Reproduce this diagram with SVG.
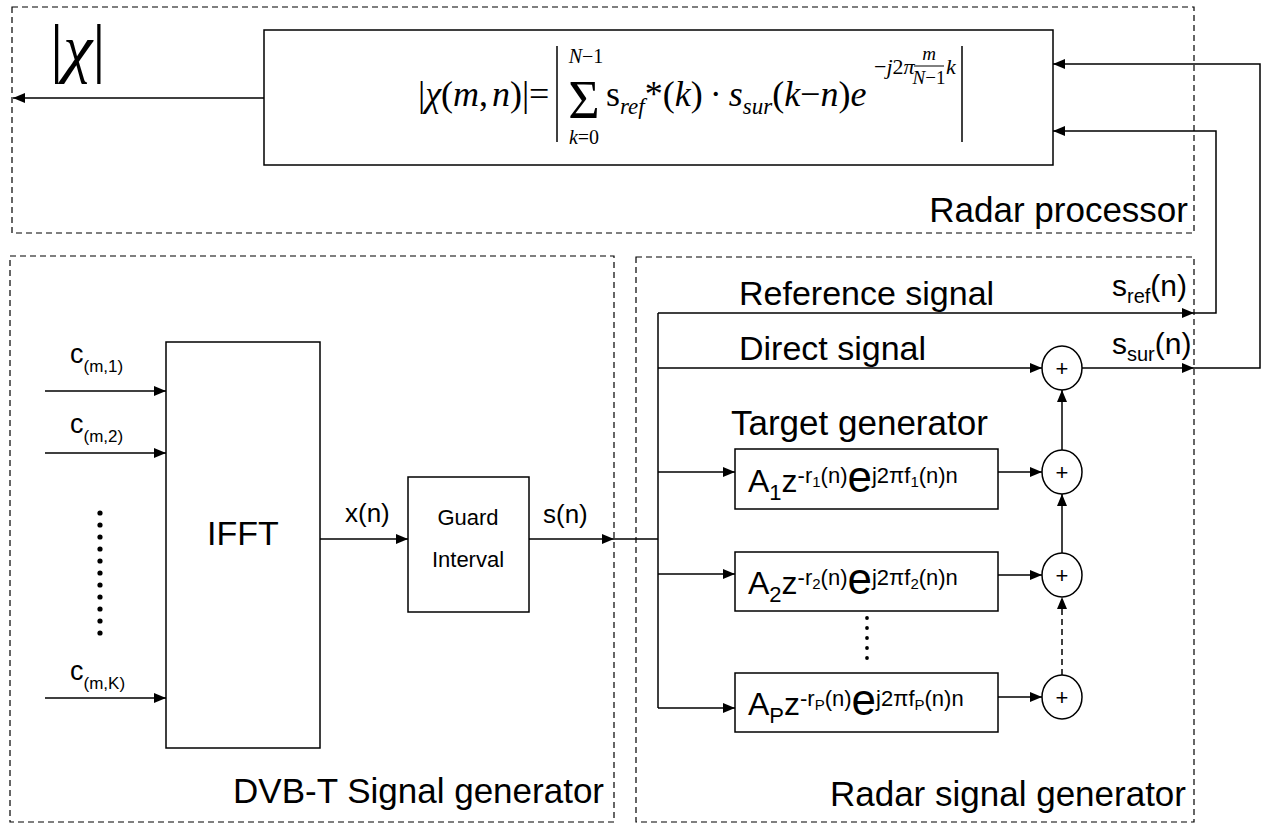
<svg xmlns="http://www.w3.org/2000/svg" width="1269" height="826" viewBox="0 0 1269 826">
<style>
.lbl{font-family:"Liberation Sans",Arial,sans-serif;fill:#000}
.m{font-family:"Liberation Serif","Times New Roman",serif;fill:#000}
.i{font-style:italic}
.ln{stroke:#000;stroke-width:1.5;fill:none}
.dl{stroke:#000;stroke-width:1.5;fill:none;stroke-dasharray:6 4}
.dash{stroke:#000;stroke-width:1.2;fill:none;stroke-dasharray:6 4}
.box{fill:#fff;stroke:#000;stroke-width:1.5}
.dot{fill:#000}
</style>
<defs>
<marker id="ah" markerWidth="12" markerHeight="10" refX="12" refY="5" orient="auto" markerUnits="userSpaceOnUse"><path d="M0,0 L12,5 L0,10 z" fill="#000"/></marker>
</defs>
<rect width="1269" height="826" fill="#fff"/>

<g id="radar-processor">
<rect class="dash" x="12" y="7" width="1182" height="226"/>
<text class="lbl" x="1188" y="222" font-size="35" text-anchor="end">Radar processor</text>
<text class="m" x="50" y="70" font-size="66">|<tspan class="i">χ</tspan>|</text>
</g>
<g id="dvbt-generator">
<rect class="dash" x="10" y="256" width="604" height="566"/>
<text class="lbl" x="604" y="803" font-size="35" text-anchor="end">DVB-T Signal generator</text>
</g>
<g id="radar-signal-generator">
<rect class="dash" x="636" y="257" width="558" height="565"/>
<text class="lbl" x="1186" y="806" font-size="35" text-anchor="end">Radar signal generator</text>
</g>

<g id="formula-box">
<rect class="box" x="264" y="30" width="789" height="135"/>
<text class="m" x="418" y="106" font-size="36">|<tspan class="i">χ</tspan>(<tspan class="i">m</tspan>,<tspan class="i" dx="4">n</tspan>)|</text>
<text class="m" x="529" y="106" font-size="36">=</text>
<line class="ln" x1="557" y1="46" x2="557" y2="142"/>
<text class="m" x="584" y="118" font-size="54" text-anchor="middle">Σ</text>
<text class="m" x="586" y="63" font-size="20" text-anchor="middle"><tspan class="i">N</tspan>−1</text>
<text class="m" x="584" y="144" font-size="20" text-anchor="middle"><tspan class="i">k</tspan>=0</text>
<text class="m" x="606" y="106" font-size="36">s<tspan class="i" font-size="23" dy="8">ref</tspan><tspan dy="-8">*(</tspan><tspan class="i">k</tspan>)<tspan dx="7">·</tspan><tspan class="i" dx="7">s</tspan><tspan class="i" font-size="23" dy="8">sur</tspan><tspan dy="-8">(</tspan><tspan class="i">k</tspan>−<tspan class="i">n</tspan>)<tspan class="i">e</tspan></text>
<text class="m" x="874" y="74" font-size="22">−<tspan class="i">j</tspan>2<tspan class="i">π</tspan></text>
<line x1="914" y1="66" x2="944" y2="66" stroke="#000" stroke-width="1"/>
<text class="m i" x="929" y="60" font-size="19" text-anchor="middle">m</text>
<text class="m" x="929" y="84" font-size="19" text-anchor="middle"><tspan class="i">N</tspan>−1</text>
<text class="m i" x="946" y="74" font-size="22">k</text>
<line class="ln" x1="962" y1="46" x2="962" y2="142"/>
</g>

<g id="ifft">
<rect class="box" x="166" y="342" width="154" height="406"/>
<text class="lbl" x="243" y="545" font-size="34" text-anchor="middle">IFFT</text>
</g>
<g id="guard-interval">
<rect class="box" x="408" y="477" width="121" height="135"/>
<text class="lbl" x="468" y="525" font-size="22" text-anchor="middle">Guard</text>
<text class="lbl" x="468" y="567" font-size="22" text-anchor="middle">Interval</text>
</g>
<g id="inputs">
<text class="lbl" x="70" y="363" font-size="27">c<tspan font-size="17" dy="9">(m,1)</tspan></text>
<text class="lbl" x="70" y="433" font-size="27">c<tspan font-size="17" dy="9">(m,2)</tspan></text>
<text class="lbl" x="70" y="680" font-size="27">c<tspan font-size="17" dy="9">(m,K)</tspan></text>
<g class="dot">
<circle cx="100" cy="513" r="2.6"/><circle cx="100" cy="525" r="2.6"/><circle cx="100" cy="537" r="2.6"/><circle cx="100" cy="549" r="2.6"/><circle cx="100" cy="561" r="2.6"/><circle cx="100" cy="573" r="2.6"/><circle cx="100" cy="585" r="2.6"/><circle cx="100" cy="597" r="2.6"/><circle cx="100" cy="609" r="2.6"/><circle cx="100" cy="621" r="2.6"/><circle cx="100" cy="633" r="2.6"/>
</g>
<text class="lbl" x="345" y="522" font-size="26">x(n)</text>
<text class="lbl" x="543" y="523" font-size="26">s(n)</text>
</g>

<g id="target-1">
<rect class="box" x="735" y="449" width="263" height="60"/>
<text class="lbl" x="748" y="492" font-size="32">A<tspan font-size="22" dy="8">1</tspan><tspan font-size="32" dy="-8">z</tspan><tspan font-size="22" dy="-9">-r</tspan><tspan font-size="15" dy="4">1</tspan><tspan font-size="22" dy="-4">(n)</tspan><tspan font-size="44" dy="9">e</tspan><tspan font-size="22" dy="-9">j2πf</tspan><tspan font-size="15" dy="4">1</tspan><tspan font-size="22" dy="-4">(n)n</tspan></text>
</g>
<g id="target-2">
<rect class="box" x="735" y="552" width="263" height="59"/>
<text class="lbl" x="748" y="594" font-size="32">A<tspan font-size="22" dy="8">2</tspan><tspan font-size="32" dy="-8">z</tspan><tspan font-size="22" dy="-9">-r</tspan><tspan font-size="15" dy="4">2</tspan><tspan font-size="22" dy="-4">(n)</tspan><tspan font-size="44" dy="9">e</tspan><tspan font-size="22" dy="-9">j2πf</tspan><tspan font-size="15" dy="4">2</tspan><tspan font-size="22" dy="-4">(n)n</tspan></text>
</g>
<g id="target-p">
<rect class="box" x="735" y="673" width="263" height="59"/>
<text class="lbl" x="748" y="715" font-size="32">A<tspan font-size="22" dy="8">P</tspan><tspan font-size="32" dy="-8">z</tspan><tspan font-size="22" dy="-9">-r</tspan><tspan font-size="15" dy="4">P</tspan><tspan font-size="22" dy="-4">(n)</tspan><tspan font-size="44" dy="9">e</tspan><tspan font-size="22" dy="-9">j2πf</tspan><tspan font-size="15" dy="4">P</tspan><tspan font-size="22" dy="-4">(n)n</tspan></text>
</g>
<g id="target-dots" class="dot">
<circle cx="867" cy="618" r="1.9"/><circle cx="867" cy="628" r="1.9"/><circle cx="867" cy="638" r="1.9"/><circle cx="867" cy="648" r="1.9"/><circle cx="867" cy="658" r="1.9"/>
</g>

<g id="sum-0"><ellipse class="box" cx="1062" cy="368" rx="20" ry="22"/><text class="lbl" x="1062" y="376" font-size="22" text-anchor="middle">+</text></g>
<g id="sum-1"><ellipse class="box" cx="1062" cy="472" rx="20" ry="22"/><text class="lbl" x="1062" y="480" font-size="22" text-anchor="middle">+</text></g>
<g id="sum-2"><ellipse class="box" cx="1062" cy="575" rx="20" ry="22"/><text class="lbl" x="1062" y="583" font-size="22" text-anchor="middle">+</text></g>
<g id="sum-p"><ellipse class="box" cx="1062" cy="697" rx="20" ry="22"/><text class="lbl" x="1062" y="705" font-size="22" text-anchor="middle">+</text></g>

<g id="signal-labels">
<text class="lbl" x="739" y="305" font-size="34">Reference signal</text>
<text class="lbl" x="739" y="360" font-size="34">Direct signal</text>
<text class="lbl" x="731" y="435" font-size="35">Target generator</text>
<text class="lbl" x="1112" y="296" font-size="30">s<tspan font-size="20" dy="7">ref</tspan><tspan dy="-7">(n)</tspan></text>
<text class="lbl" x="1112" y="354" font-size="30">s<tspan font-size="20" dy="7">sur</tspan><tspan dy="-7">(n)</tspan></text>
</g>

<g id="connectors">
<line class="ln" x1="264" y1="98" x2="13" y2="98" marker-end="url(#ah)"/>
<line class="ln" x1="45" y1="391" x2="166" y2="391" marker-end="url(#ah)"/>
<line class="ln" x1="45" y1="453" x2="166" y2="453" marker-end="url(#ah)"/>
<line class="ln" x1="45" y1="698" x2="166" y2="698" marker-end="url(#ah)"/>
<line class="ln" x1="320" y1="539" x2="408" y2="539" marker-end="url(#ah)"/>
<line class="ln" x1="529" y1="539" x2="614" y2="539" marker-end="url(#ah)"/>
<line class="ln" x1="614" y1="539" x2="658" y2="539"/>
<line class="ln" x1="658" y1="313" x2="658" y2="708"/>
<line class="ln" x1="658" y1="313" x2="1194" y2="313" marker-end="url(#ah)"/>
<line class="ln" x1="658" y1="368" x2="1042" y2="368" marker-end="url(#ah)"/>
<line class="ln" x1="658" y1="472" x2="735" y2="472" marker-end="url(#ah)"/>
<line class="ln" x1="658" y1="574" x2="735" y2="574" marker-end="url(#ah)"/>
<line class="ln" x1="658" y1="708" x2="735" y2="708" marker-end="url(#ah)"/>
<line class="ln" x1="998" y1="472" x2="1042" y2="472" marker-end="url(#ah)"/>
<line class="ln" x1="998" y1="575" x2="1042" y2="575" marker-end="url(#ah)"/>
<line class="ln" x1="998" y1="697" x2="1042" y2="697" marker-end="url(#ah)"/>
<line class="ln" x1="1062" y1="450" x2="1062" y2="390" marker-end="url(#ah)"/>
<line class="ln" x1="1062" y1="553" x2="1062" y2="494" marker-end="url(#ah)"/>
<line class="dl" x1="1062" y1="675" x2="1062" y2="597" marker-end="url(#ah)"/>
<line class="ln" x1="1082" y1="368" x2="1194" y2="368" marker-end="url(#ah)"/>
<polyline class="ln" points="1194,368 1260,368 1260,64 1053,64" marker-end="url(#ah)"/>
<polyline class="ln" points="1194,313 1216,313 1216,131 1053,131" marker-end="url(#ah)"/>
</g>
</svg>
